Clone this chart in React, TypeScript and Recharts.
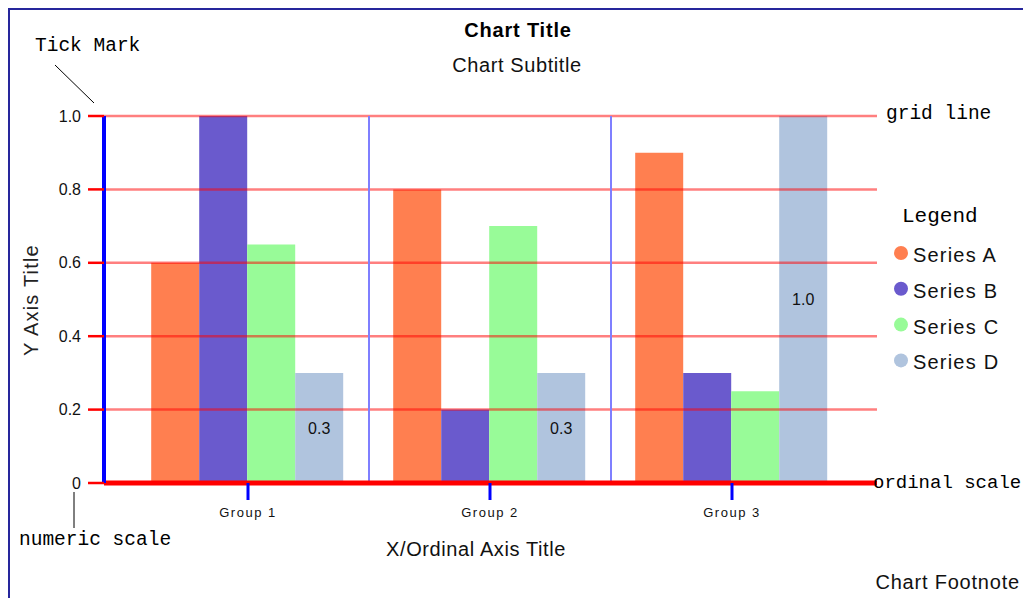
import React from 'react';
import { BarChart, Bar, XAxis, YAxis, ReferenceLine, Legend, LabelList } from 'recharts';

const groups = ['Group 1', 'Group 2', 'Group 3'];
const seriesNames = ['Series A', 'Series B', 'Series C', 'Series D'];
const seriesKeys = ['A', 'B', 'C', 'D'];
const seriesA = [0.6, 0.8, 0.9];
const seriesB = [1.0, 0.2, 0.3];
const seriesC = [0.65, 0.7, 0.25];
const seriesD = [0.3, 0.3, 1.0];
const yTicks = [0, 0.2, 0.4, 0.6, 0.8, 1.0];
const gridValues = [0.2, 0.4, 0.6, 0.8, 1.0];
const colors = ['#ff7f50', '#6a5acd', '#98fb98', '#b0c4de'];

const data = groups.map((g, i) => ({
  group: g,
  A: seriesA[i],
  B: seriesB[i],
  C: seriesC[i],
  D: seriesD[i],
}));

const SANS = '"Liberation Sans", Arial, sans-serif';
const MONO = '"Liberation Mono", "Courier New", monospace';

const W = 1015;
const H = 590;

const LegendBox = (props: any) => {
  const payload = props.payload || [];
  return (
    <svg width={140} height={190} style={{ overflow: 'visible', display: 'block' }}>
      <text x={12} y={22} fontFamily={MONO} fontSize={21} fill="#000">Legend</text>
      {payload.map((p: any, i: number) => (
        <g key={i}>
          <circle cx={11} cy={53 + i * 35.8} r={7} fill={p.color} />
          <text x={23} y={62 + i * 35.8} fontFamily={SANS} fontSize={20} letterSpacing={1.2} fill="#111">
            {p.value}
          </text>
        </g>
      ))}
    </svg>
  );
};

export default function App() {
  return (
    <div
      style={{
        position: 'relative',
        width: W,
        height: 600,
        borderTop: '2px solid #26269c',
        borderLeft: '2px solid #26269c',
        borderRight: '2px solid #26269c',
        fontFamily: SANS,
      }}
    >
      <BarChart
        width={W}
        height={H}
        data={data}
        margin={{ top: 106, right: 8, bottom: 77, left: 34 }}
        barCategoryGap="10%"
        barGap={0}
      >
        <XAxis
          dataKey="group"
          height={40}
          padding={{ left: 23, right: 24 }}
          axisLine={{ stroke: '#ff0000', strokeWidth: 5 }}
          tickLine={{ stroke: '#0000ff', strokeWidth: 3 }}
          tickSize={17}
          tickMargin={8}
          tick={{ fontSize: 13, fill: '#111', fontFamily: SANS, letterSpacing: 1.5 }}
        />
        <YAxis
          width={60}
          domain={[0, 1]}
          ticks={yTicks}
          interval={0}
          axisLine={{ stroke: '#0000ff', strokeWidth: 4 }}
          tickLine={{ stroke: '#ff0000', strokeWidth: 2.5 }}
          tickSize={16}
          tickMargin={7}
          tickFormatter={(v: number) => (v === 0 ? '0' : v.toFixed(1))}
          tick={{ fontSize: 16, fill: '#111', fontFamily: SANS }}
        />
        {seriesKeys.map((k, i) => (
          <Bar key={k} dataKey={k} name={seriesNames[i]} fill={colors[i]} isAnimationActive={false}>
            {k === 'D' ? (
              <LabelList
                dataKey="D"
                position="center"
                formatter={(v: any) => Number(v).toFixed(1)}
                fill="#111"
                fontSize={16}
                fontFamily={SANS}
              />
            ) : null}
          </Bar>
        ))}
        {gridValues.map((v) => (
          <ReferenceLine key={'h' + v} y={v} stroke="#ff0000" strokeOpacity={0.5} strokeWidth={2.5} />
        ))}
        {groups.slice(1).map((g) => (
          <ReferenceLine key={'v' + g} x={g} position="start" stroke="#7f7fff" strokeWidth={2} />
        ))}
        <Legend
          layout="horizontal"
          verticalAlign="middle"
          align="right"
          content={<LegendBox />}
          wrapperStyle={{ left: 880, top: 190, width: 140, height: 190 }}
        />
      </BarChart>
      <svg
        width={W}
        height={H}
        style={{ position: 'absolute', left: 0, top: 0, pointerEvents: 'none' }}
      >
        <text x={508} y={27} textAnchor="middle" fontFamily={SANS} fontWeight="bold" fontSize={20} letterSpacing={0.8} fill="#000">
          Chart Title
        </text>
        <text x={507} y={62} textAnchor="middle" fontFamily={SANS} fontSize={20} letterSpacing={0.6} fill="#111">
          Chart Subtitle
        </text>
        <text x={25} y={41} fontFamily={MONO} fontSize={19.5} fill="#000">Tick Mark</text>
        <line x1={45} y1={55} x2={84} y2={93} stroke="#000" strokeWidth={1} />
        <text x={876} y={109} fontFamily={MONO} fontSize={19.5} fill="#000">grid line</text>
        <text x={863} y={478} fontFamily={MONO} fontSize={19} fill="#000">ordinal scale</text>
        <text x={9} y={535} fontFamily={MONO} fontSize={19.5} fill="#000">numeric scale</text>
        <line x1={64} y1={482} x2={64} y2={518} stroke="#000" strokeWidth={1} />
        <text
          x={28}
          y={290}
          transform="rotate(-90, 28, 290)"
          textAnchor="middle"
          fontFamily={SANS}
          fontSize={20}
          letterSpacing={1.2}
          fill="#222"
        >
          Y Axis Title
        </text>
        <text x={466} y={546} textAnchor="middle" fontFamily={SANS} fontSize={20} letterSpacing={0.6} fill="#111">
          X/Ordinal Axis Title
        </text>
        <text x={1010} y={579} textAnchor="end" fontFamily={SANS} fontSize={20} letterSpacing={0.8} fill="#111">
          Chart Footnote
        </text>
      </svg>
    </div>
  );
}
